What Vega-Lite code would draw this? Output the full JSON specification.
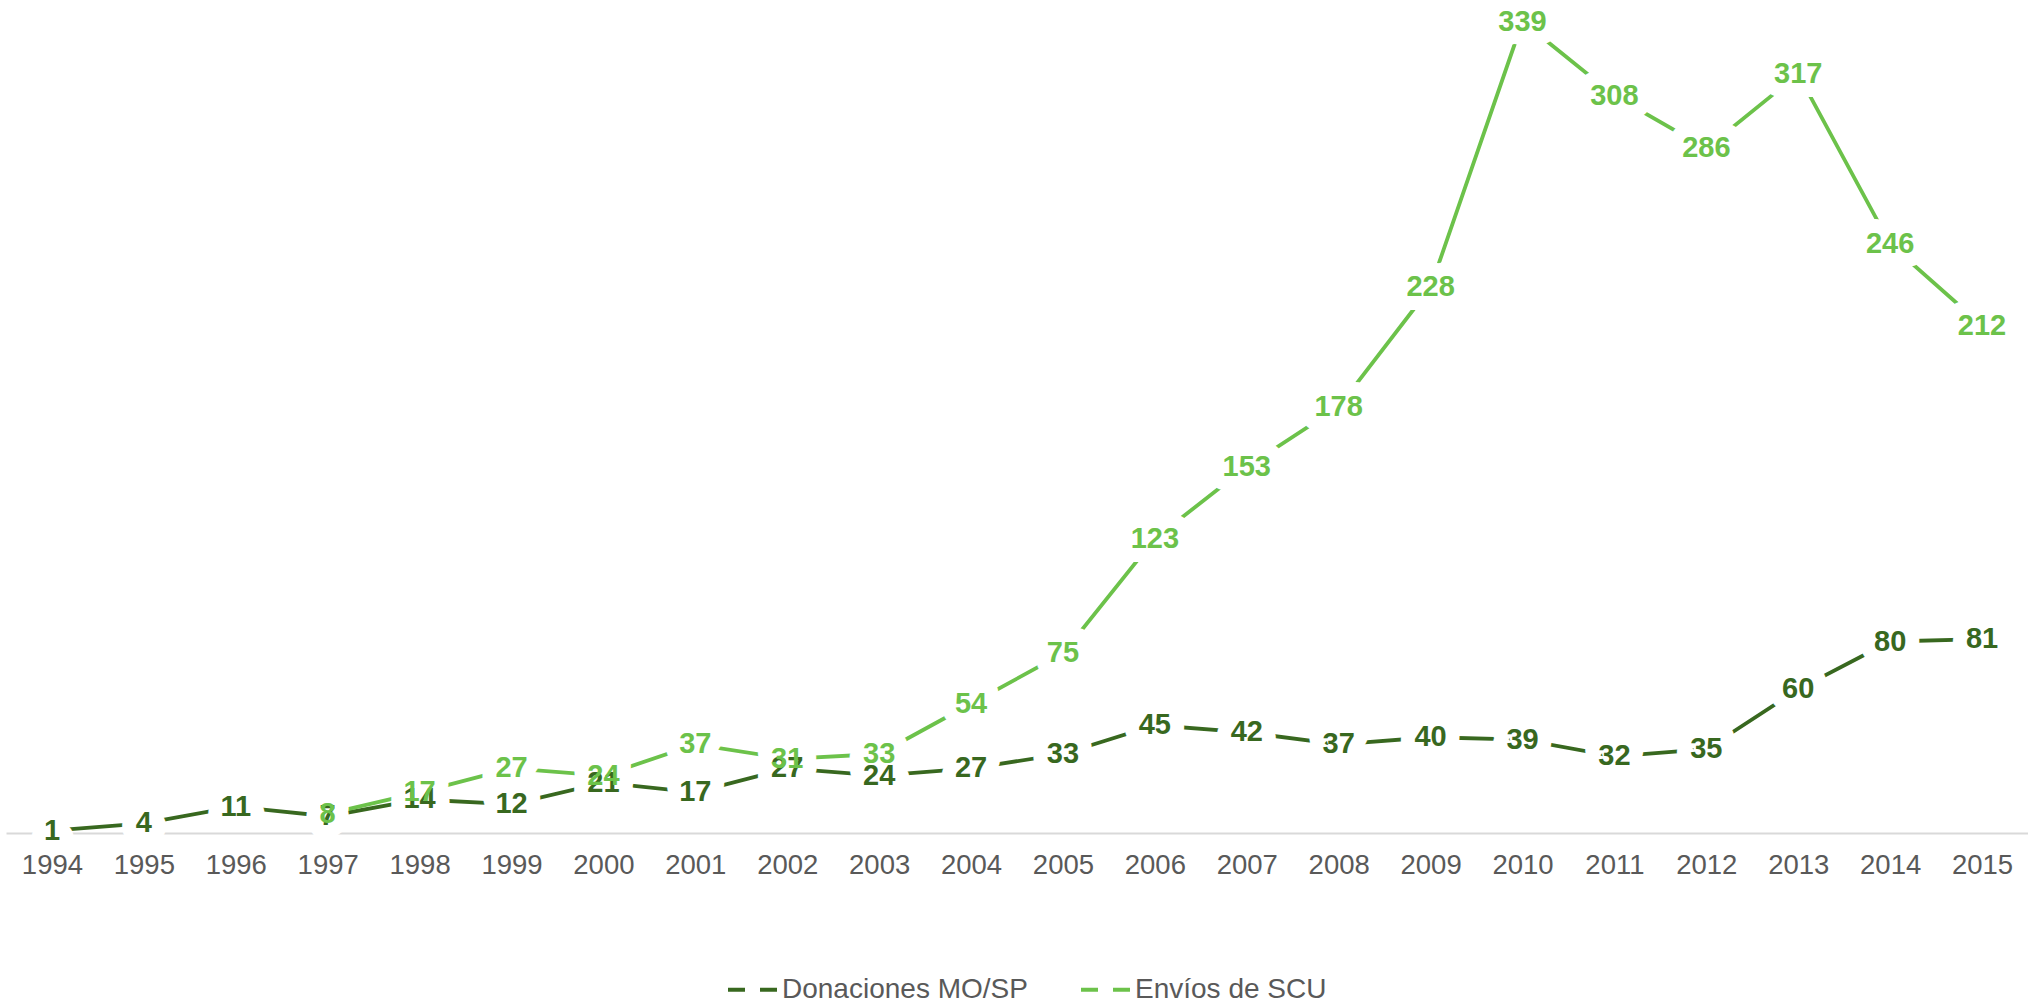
{
  "$schema": "https://vega.github.io/schema/vega-lite/v6.json",
  "width": 2022,
  "height": 833,
  "padding": {"left": 6, "top": 0, "right": 0, "bottom": 0},
  "background": "white",
  "config": {
    "view": {"stroke": null},
    "font": "Liberation Sans"
  },
  "data": {
    "values": [
      {"year": "1994", "series": "Donaciones MO/SP", "value": 1},
      {"year": "1995", "series": "Donaciones MO/SP", "value": 4},
      {"year": "1996", "series": "Donaciones MO/SP", "value": 11},
      {"year": "1997", "series": "Donaciones MO/SP", "value": 7},
      {"year": "1998", "series": "Donaciones MO/SP", "value": 14},
      {"year": "1999", "series": "Donaciones MO/SP", "value": 12},
      {"year": "2000", "series": "Donaciones MO/SP", "value": 21},
      {"year": "2001", "series": "Donaciones MO/SP", "value": 17},
      {"year": "2002", "series": "Donaciones MO/SP", "value": 27},
      {"year": "2003", "series": "Donaciones MO/SP", "value": 24},
      {"year": "2004", "series": "Donaciones MO/SP", "value": 27},
      {"year": "2005", "series": "Donaciones MO/SP", "value": 33},
      {"year": "2006", "series": "Donaciones MO/SP", "value": 45},
      {"year": "2007", "series": "Donaciones MO/SP", "value": 42},
      {"year": "2008", "series": "Donaciones MO/SP", "value": 37},
      {"year": "2009", "series": "Donaciones MO/SP", "value": 40},
      {"year": "2010", "series": "Donaciones MO/SP", "value": 39},
      {"year": "2011", "series": "Donaciones MO/SP", "value": 32},
      {"year": "2012", "series": "Donaciones MO/SP", "value": 35},
      {"year": "2013", "series": "Donaciones MO/SP", "value": 60},
      {"year": "2014", "series": "Donaciones MO/SP", "value": 80},
      {"year": "2015", "series": "Donaciones MO/SP", "value": 81},
      {"year": "1997", "series": "Envíos de SCU", "value": 8},
      {"year": "1998", "series": "Envíos de SCU", "value": 17},
      {"year": "1999", "series": "Envíos de SCU", "value": 27},
      {"year": "2000", "series": "Envíos de SCU", "value": 24},
      {"year": "2001", "series": "Envíos de SCU", "value": 37},
      {"year": "2002", "series": "Envíos de SCU", "value": 31},
      {"year": "2003", "series": "Envíos de SCU", "value": 33},
      {"year": "2004", "series": "Envíos de SCU", "value": 54},
      {"year": "2005", "series": "Envíos de SCU", "value": 75},
      {"year": "2006", "series": "Envíos de SCU", "value": 123},
      {"year": "2007", "series": "Envíos de SCU", "value": 153},
      {"year": "2008", "series": "Envíos de SCU", "value": 178},
      {"year": "2009", "series": "Envíos de SCU", "value": 228},
      {"year": "2010", "series": "Envíos de SCU", "value": 339},
      {"year": "2011", "series": "Envíos de SCU", "value": 308},
      {"year": "2012", "series": "Envíos de SCU", "value": 286},
      {"year": "2013", "series": "Envíos de SCU", "value": 317},
      {"year": "2014", "series": "Envíos de SCU", "value": 246},
      {"year": "2015", "series": "Envíos de SCU", "value": 212}
    ]
  },
  "encoding": {
    "x": {
      "field": "year",
      "type": "ordinal",
      "scale": {"type": "point", "padding": 0.5},
      "axis": {
        "title": null,
        "labelAngle": 0,
        "labelFont": "Liberation Sans",
        "labelFontSize": 27.5,
        "labelColor": "#595959",
        "labelPadding": 18,
        "ticks": false,
        "grid": false,
        "domainColor": "#d9d9d9",
        "domainWidth": 2
      }
    },
    "y": {
      "field": "value",
      "type": "quantitative",
      "scale": {"domain": [0, 348], "nice": false},
      "axis": null
    },
    "color": {
      "field": "series",
      "type": "nominal",
      "scale": {
        "domain": ["Donaciones MO/SP", "Envíos de SCU"],
        "range": ["#38681f", "#6cc24a"]
      },
      "legend": {
        "title": null,
        "orient": "none",
        "direction": "horizontal",
        "legendX": 720,
        "legendY": 963,
        "padding": 0,
        "symbolType": "stroke",
        "symbolSize": 2400,
        "symbolStrokeWidth": 4,
        "symbolDash": [17, 15],
        "labelFont": "Liberation Sans",
        "labelFontSize": 28,
        "labelColor": "#595959",
        "labelOffset": 3,
        "labelLimit": 0,
        "columnPadding": 45
      }
    }
  },
  "layer": [
    {
      "mark": {"type": "line", "strokeWidth": 3.8}
    },
    {
      "mark": {
        "type": "text",
        "font": "Liberation Sans",
        "fontWeight": "bold",
        "fontSize": 29,
        "baseline": "middle",
        "align": "center",
        "stroke": "white",
        "strokeWidth": 28,
        "strokeJoin": "round",
        "fill": "white"
      },
      "encoding": {
        "text": {"field": "value", "type": "quantitative"},
        "color": {"value": "white"}
      }
    },
    {
      "mark": {
        "type": "text",
        "font": "Liberation Sans",
        "fontWeight": "bold",
        "fontSize": 29,
        "baseline": "middle",
        "align": "center"
      },
      "encoding": {
        "text": {"field": "value", "type": "quantitative"}
      }
    }
  ]
}
